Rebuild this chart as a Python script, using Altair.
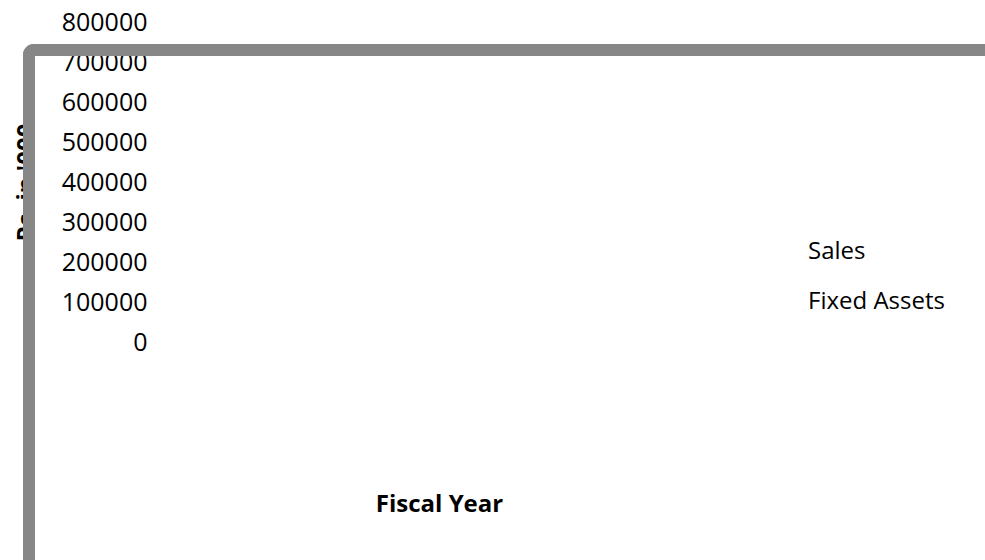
import altair as alt
import pandas as pd

# --- data (no data marks are visible in it) ---
series = ["Sales", "Fixed Assets"]
series_colors = ["#4F81BD", "#C0504D"]
y_ticks = [0, 100000, 200000, 300000, 400000, 500000, 600000, 700000, 800000]
y_title = "Rs. in '000"
x_title = "Fiscal Year"

FONT = "Open Sans"
PAD_L, PAD_T = 160, 22
W, H = 985 - PAD_L, 320

df = pd.DataFrame({"series": series, "year": [None, None], "value": [None, None]})

base = alt.Chart(df)

pts = base.mark_point(opacity=0).encode(
    x=alt.X("year:Q", scale=alt.Scale(domain=[0, 1]),
            axis=alt.Axis(title=x_title, labels=False, ticks=False, domain=False, grid=False,
                          titleFont=FONT, titleFontSize=24, titleFontWeight="bold", titleColor="black",
                          titleX=439 - PAD_L, titleY=511 - (PAD_T + H), titleAlign="center",
                          titleBaseline="alphabetic")),
    y=alt.Y("value:Q", scale=alt.Scale(domain=[0, 800000], nice=False),
            axis=alt.Axis(title=y_title, values=y_ticks, format="d", labels=True, ticks=False,
                          domain=False, grid=False, labelPadding=13, labelFont=FONT,
                          labelFontSize=25, labelColor="black", labelBaseline="middle",
                          titleFont=FONT, titleFontSize=24, titleFontWeight="bold", titleColor="black",
                          titleAngle=-90, titleAlign="center", titleBaseline="alphabetic",
                          titleX=33 - PAD_L, titleY=182 - PAD_T)),
    color=alt.Color("series:N", scale=alt.Scale(domain=series, range=series_colors),
                    legend=alt.Legend(orient="none", legendX=784 - PAD_L, legendY=240 - PAD_T,
                                      title=None, symbolOpacity=0, symbolSize=0, symbolStrokeWidth=0,
                                      labelOffset=0, labelFont=FONT, labelFontSize=24,
                                      labelColor="black", rowPadding=26)),
)

frame = base.mark_rect(fill=None, stroke="#878787", strokeWidth=12, cornerRadius=5, clip=False).encode(
    x=alt.value(29 - PAD_L), x2=alt.value(W + 60),
    y=alt.value(50 - PAD_T), y2=alt.value(H + 300),
)

chart = alt.layer(pts, frame).properties(
    width=W, height=H,
    padding={"left": PAD_L, "top": PAD_T, "right": 0, "bottom": 560 - PAD_T - H},
    autosize=alt.AutoSizeParams(type="none"),
    background="white",
).configure_view(stroke=None)

chart.save("out.html", embed_options={"renderer": "svg", "actions": False})
